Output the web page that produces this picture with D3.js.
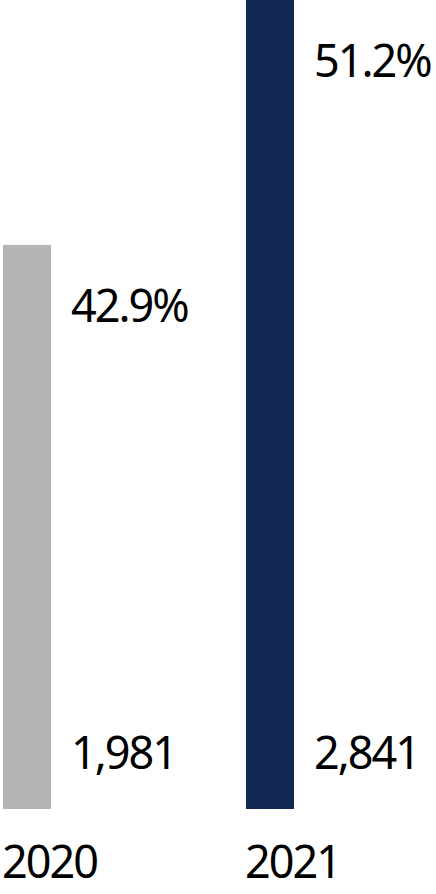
<!DOCTYPE html>
<html>
<head>
<meta charset="utf-8">
<script src="https://cdn.jsdelivr.net/npm/d3@7"></script>
<style>
  html, body { margin: 0; padding: 0; background: #fff; }
  svg { display: block; }
</style>
</head>
<body>
<svg id="chart"></svg>
<script>
const years = ["2020", "2021"];
const values = [1981, 2841];
const valueLabels = ["1,981", "2,841"];
const shareLabels = ["42.9%", "51.2%"];
const barColors = ["#b4b4b4", "#112855"];

const width = 436, height = 894;
const baseY = 809;

const svg = d3.select("#chart")
    .attr("width", width)
    .attr("height", height);

const data = years.map((y, i) => ({
    year: y, value: values[i], valueLabel: valueLabels[i],
    share: shareLabels[i], color: barColors[i]
}));

// band step 243, bar width 48
const x = d3.scaleBand()
    .domain(years)
    .range([3, 294])
    .paddingInner(195 / 243)
    .paddingOuter(0);

const y = d3.scaleLinear()
    .domain([0, d3.max(values)])
    .range([baseY, 0]);

const font = "'Noto Sans', 'Open Sans', sans-serif";

const g = svg.append("g");

g.selectAll("rect")
    .data(data)
    .join("rect")
    .attr("x", d => x(d.year))
    .attr("y", d => y(d.value))
    .attr("width", x.bandwidth())
    .attr("height", d => baseY - y(d.value))
    .attr("fill", d => d.color);

function styleText(sel) {
    sel.attr("font-family", font)
        .attr("font-size", 45)
        .attr("letter-spacing", -2)
        .attr("fill", "#000");
}

// percentage labels near the bar top
g.selectAll("text.share")
    .data(data)
    .join("text")
    .attr("class", "share")
    .attr("x", d => x(d.year) + 68)
    .attr("y", d => y(d.value) + 77)
    .call(styleText)
    .text(d => d.share);

// value labels near the bar bottom
g.selectAll("text.val")
    .data(data)
    .join("text")
    .attr("class", "val")
    .attr("x", d => x(d.year) + 68)
    .attr("y", baseY - 40)
    .call(styleText)
    .text(d => d.valueLabel);

// year labels under the bars
g.selectAll("text.year")
    .data(data)
    .join("text")
    .attr("class", "year")
    .attr("x", d => x(d.year) - 1)
    .attr("y", 878)
    .call(styleText)
    .text(d => d.year);
</script>
</body>
</html>
